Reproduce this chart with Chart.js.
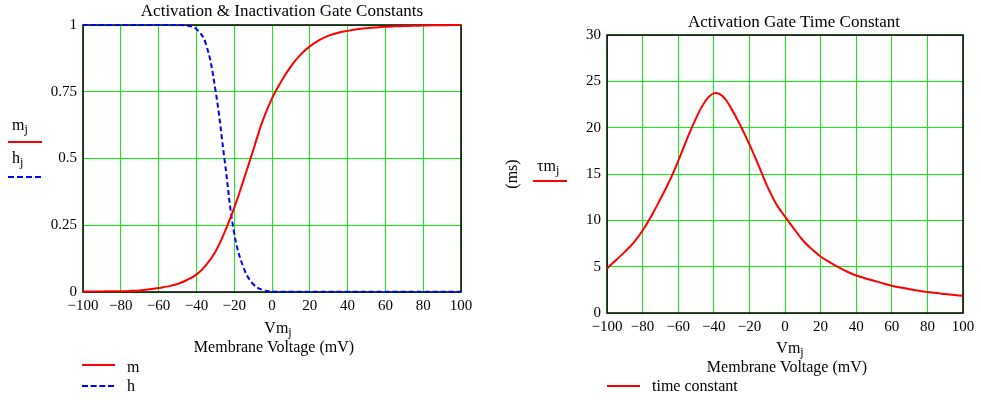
<!DOCTYPE html>
<html>
<head>
<meta charset="utf-8">
<script src="https://cdn.jsdelivr.net/npm/chart.js@4.4.1/dist/chart.umd.min.js"></script>
<style>
  body { margin: 0; background: #fff; }
  #wrap { position: relative; width: 981px; height: 400px; font-family: "Liberation Serif", serif; color: #000; }
  canvas { position: absolute; }
  .t { position: absolute; white-space: nowrap; line-height: 1; font-size: 16px; }
  .c { transform: translateX(-50%); }
  sub { font-size: 12px; vertical-align: -3px; line-height: 0; }
  .ln { position: absolute; height: 0; }
</style>
</head>
<body>
<div id="wrap">
  <canvas id="gateChart" width="480" height="320" style="left:0;top:0"></canvas>
  <canvas id="tauChart" width="461" height="341" style="left:520px;top:0"></canvas>

  <!-- left chart texts -->
  <div class="t c" style="left:282px;top:2px;font-size:17px">Activation &amp; Inactivation Gate Constants</div>
  <div class="t" style="left:12px;top:117px">m<sub>j</sub></div>
  <div class="ln" style="left:8px;top:141px;width:34px;border-top:2px solid #f00"></div>
  <div class="t" style="left:12px;top:150px">h<sub>j</sub></div>
  <div class="ln" style="left:8px;top:176px;width:33px;border-top:2px dashed #00f"></div>
  <div class="t c" style="left:278px;top:320px">Vm<sub>j</sub></div>
  <div class="t c" style="left:274px;top:339px">Membrane Voltage (mV)</div>
  <div class="ln" style="left:82px;top:364px;width:33px;border-top:2px solid #f00"></div>
  <div class="t" style="left:127px;top:359px">m</div>
  <div class="ln" style="left:82px;top:385px;width:32px;border-top:2px dashed #00f"></div>
  <div class="t" style="left:127px;top:378px">h</div>

  <!-- right chart texts -->
  <div class="t c" style="left:794px;top:13px;font-size:17px">Activation Gate Time Constant</div>
  <div class="t" style="left:512px;top:174px;transform:translate(-50%,-50%) rotate(-90deg)">(ms)</div>
  <div class="t" style="left:537px;top:158px">τm<sub>j</sub></div>
  <div class="ln" style="left:533px;top:180px;width:34px;border-top:2px solid #f00"></div>
  <div class="t c" style="left:790px;top:340px">Vm<sub>j</sub></div>
  <div class="t c" style="left:787px;top:359px">Membrane Voltage (mV)</div>
  <div class="ln" style="left:607px;top:385px;width:33px;border-top:2px solid #f00"></div>
  <div class="t" style="left:652px;top:378px">time constant</div>
</div>

<script>
// 막전위 (mV)
const vm = [-100, -95, -90, -85, -80, -75, -70, -65, -60, -55, -50, -45, -40, -35, -30, -25, -20, -15, -10, -5,
            0, 5, 10, 15, 20, 25, 30, 35, 40, 45, 50, 55, 60, 65, 70, 75, 80, 85, 90, 95, 100];

// activation gate m
const mVals = [0.002, 0.002, 0.002, 0.003, 0.003, 0.004, 0.006, 0.010, 0.015, 0.021, 0.030, 0.045, 0.065, 0.100,
               0.150, 0.225, 0.315, 0.42, 0.53, 0.64, 0.725, 0.79, 0.845, 0.888, 0.92, 0.943, 0.96, 0.971, 0.978,
               0.984, 0.988, 0.991, 0.993, 0.995, 0.996, 0.997, 0.998, 0.999, 0.999, 1.0, 1.0];

// inactivation gate h
const hVals = [1, 1, 1, 1, 1, 1, 1, 1, 1, 1, 1, 0.998, 0.985, 0.93, 0.76, 0.49, 0.22, 0.09, 0.03, 0.008,
               0.002, 0.001, 0.001, 0.001, 0.001, 0.001, 0.001, 0.001, 0.001, 0.001, 0.001, 0.001, 0.001,
               0.001, 0.001, 0.001, 0.001, 0.001, 0.001, 0.001, 0.001];

// time constant (ms)
const tauVals = [4.8, 5.7, 6.6, 7.6, 8.9, 10.5, 12.3, 14.2, 16.4, 18.8, 21.0, 22.8, 23.7, 23.4, 22.0, 20.2,
                 18.2, 16.0, 13.7, 11.8, 10.4, 9.1, 7.85, 6.9, 6.1, 5.5, 4.95, 4.45, 4.05, 3.75, 3.48, 3.2,
                 2.95, 2.75, 2.57, 2.41, 2.27, 2.15, 2.05, 1.95, 1.85];

// 축 눈금
const xTicks = [-100, -80, -60, -40, -20, 0, 20, 40, 60, 80, 100];
const gateTicks = [0, 0.25, 0.5, 0.75, 1];
const tauTicks = [0, 5, 10, 15, 20, 25, 30];

const FONT = { family: "'Liberation Serif', serif", size: 15 };
const GRID = '#11ee11';

function pts(ys) {
    return vm.map((x, i) => ({ x: x, y: ys[i] }));
}

// 플롯 테두리
const framePlugin = {
    id: 'frame',
    beforeDatasetsDraw(chart) {
        const a = chart.chartArea, ctx = chart.ctx;
        ctx.save();
        ctx.strokeStyle = '#000';
        ctx.lineWidth = 1.5;
        ctx.strokeRect(a.left, a.top, a.right - a.left, a.bottom - a.top);
        ctx.restore();
    }
};

function axes(yTicks, yMax) {
    return {
        x: {
            type: 'linear', min: -100, max: 100,
            afterFit: s => { s.height = 28; },
            afterBuildTicks: s => { s.ticks = xTicks.map(v => ({ value: v })); },
            grid: { color: GRID, drawTicks: false, tickLength: 0 },
            border: { display: false },
            ticks: { color: '#000', font: FONT, padding: 5, maxRotation: 0, autoSkip: false,
                     callback: v => String(v).replace('-', '\u2212') }
        },
        y: {
            type: 'linear', min: 0, max: yMax,
            afterFit: s => { s.width = 40; },
            afterBuildTicks: s => { s.ticks = yTicks.map(v => ({ value: v })); },
            grid: { color: GRID, drawTicks: false, tickLength: 0 },
            border: { display: false },
            ticks: { color: '#000', font: FONT, padding: 6, autoSkip: false, callback: v => String(v) }
        }
    };
}

const common = {
    responsive: false,
    animation: false,
    plugins: { legend: { display: false }, tooltip: { enabled: false } },
    elements: { point: { radius: 0 } }
};

new Chart(document.getElementById('gateChart'), {
    type: 'line',
    data: {
        datasets: [
            { label: 'm', data: pts(mVals), borderColor: '#ff0000', borderWidth: 2, tension: 0.4, clip: 4 },
            { label: 'h', data: pts(hVals), borderColor: '#0000ff', borderWidth: 2, borderDash: [5, 3],
              tension: 0.4, clip: 4 }
        ]
    },
    options: Object.assign({}, common, {
        layout: { padding: { left: 43, top: 25, right: 19, bottom: 0 } },
        scales: axes(gateTicks, 1)
    }),
    plugins: [framePlugin]
});

new Chart(document.getElementById('tauChart'), {
    type: 'line',
    data: {
        datasets: [
            { label: 'time constant', data: pts(tauVals), borderColor: '#ff0000', borderWidth: 2,
              tension: 0.4, clip: 4 }
        ]
    },
    options: Object.assign({}, common, {
        layout: { padding: { left: 47, top: 35, right: 18, bottom: 0 } },
        scales: axes(tauTicks, 30)
    }),
    plugins: [framePlugin]
});
</script>
</body>
</html>
